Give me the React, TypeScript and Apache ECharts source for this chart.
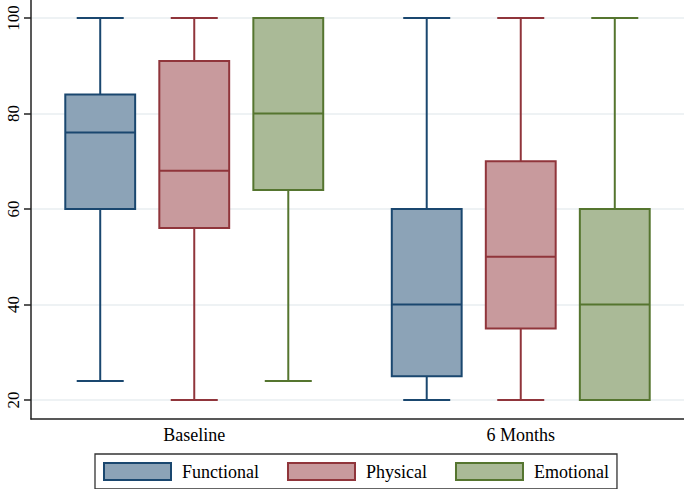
import React, { useEffect, useRef } from "react";
import * as echarts from "echarts";

const categories = ["Baseline", "6 Months"];
const seriesNames = ["Functional", "Physical", "Emotional"];
// [min, Q1, median, Q3, max] per category
const functionalStats = [
  [24, 60, 76, 84, 100],
  [20, 25, 40, 60, 100],
];
const physicalStats = [
  [20, 56, 68, 91, 100],
  [20, 35, 50, 70, 100],
];
const emotionalStats = [
  [24, 64, 80, 100, 100],
  [20, 20, 40, 60, 100],
];
const yTicks = [20, 40, 60, 80, 100];

const fills = ["#8CA3B7", "#C89A9D", "#AABA97"];
const strokes = ["#1A476F", "#90353B", "#55752F"];

export default function App() {
  const ref = useRef<HTMLDivElement>(null);
  useEffect(() => {
    if (!ref.current) return;
    const chart = echarts.init(ref.current, undefined, { renderer: "svg" });
    const allStats = [functionalStats, physicalStats, emotionalStats];
    const font = "Liberation Serif";

    const makeSeries = (idx: number) => ({
      type: "custom",
      name: seriesNames[idx],
      xAxisIndex: 1,
      yAxisIndex: 1,
      itemStyle: { color: fills[idx], borderColor: strokes[idx], borderWidth: 2 },
      data: allStats[idx].map((s, ci) => [ci, ...s]),
      renderItem: (params: any, api: any) => {
        const cat = api.value(0);
        const vMin = api.value(1), q1 = api.value(2), med = api.value(3), q3 = api.value(4), vMax = api.value(5);
        const band = api.size([1, 0])[0];
        const cx = api.coord([cat, med])[0] + (idx - 1) * band * 0.288;
        const bw = band * 0.214;
        const cw = band * 0.144;
        const y = (v: number) => api.coord([cat, v])[1];
        const lineStyle = { stroke: strokes[idx], lineWidth: 2 };
        return {
          type: "group",
          children: [
            { type: "line", shape: { x1: cx, y1: y(vMax), x2: cx, y2: y(q3) }, style: lineStyle },
            { type: "line", shape: { x1: cx, y1: y(q1), x2: cx, y2: y(vMin) }, style: lineStyle },
            { type: "line", shape: { x1: cx - cw / 2, y1: y(vMax), x2: cx + cw / 2, y2: y(vMax) }, style: lineStyle },
            { type: "line", shape: { x1: cx - cw / 2, y1: y(vMin), x2: cx + cw / 2, y2: y(vMin) }, style: lineStyle },
            {
              type: "rect",
              shape: { x: cx - bw / 2, y: y(q3), width: bw, height: y(q1) - y(q3) },
              style: { fill: fills[idx], stroke: strokes[idx], lineWidth: 2 },
            },
            { type: "line", shape: { x1: cx - bw / 2, y1: y(med), x2: cx + bw / 2, y2: y(med) }, style: lineStyle },
          ],
        };
      },
    });

    chart.setOption({
      animation: false,
      backgroundColor: "#ffffff",
      textStyle: { fontFamily: font },
      legend: {
        data: seriesNames.map((n, i) => ({
          name: n,
          itemStyle: { color: fills[i], borderColor: strokes[i], borderWidth: 2 },
        })),
        icon: "rect",
        left: 95,
        top: 454,
        itemWidth: 67,
        itemHeight: 17,
        itemGap: 28,
        padding: [8, 8, 8, 8],
        borderColor: "#333",
        borderWidth: 1.3,
        backgroundColor: "#fff",
        textStyle: { fontFamily: font, fontSize: 18, color: "#000", padding: [0, 0, 0, 6] },
      },
      grid: [
        { left: 31, right: 0, top: 0, bottom: 70 },
        { left: 31, right: 0, top: 18, bottom: 89 },
      ],
      xAxis: [
        {
          type: "category",
          gridIndex: 0,
          data: categories,
          axisLine: { show: true, lineStyle: { color: "#222", width: 1.5 } },
          axisTick: { show: false },
          axisLabel: { fontFamily: font, fontSize: 18, color: "#000", margin: 7 },
          splitLine: { show: false },
        },
        {
          type: "category",
          gridIndex: 1,
          data: categories,
          show: false,
        },
      ],
      yAxis: [
        {
          type: "value",
          gridIndex: 0,
          min: 0,
          max: 1,
          axisLine: { show: true, lineStyle: { color: "#222", width: 1.5 } },
          axisTick: { show: false },
          axisLabel: { show: false },
          splitLine: { show: false },
        },
        {
          type: "value",
          gridIndex: 1,
          min: yTicks[0],
          max: yTicks[yTicks.length - 1],
          interval: 20,
          axisLine: { show: false },
          axisTick: { show: true, length: 7, lineStyle: { color: "#222", width: 1.5 } },
          axisLabel: { fontFamily: font, fontSize: 17, color: "#000", rotate: 90, margin: 9 },
          splitLine: { show: true, lineStyle: { color: "#E8EEF1", width: 1.5 } },
        },
      ],
      series: [makeSeries(0), makeSeries(1), makeSeries(2)],
    });
    return () => chart.dispose();
  }, []);
  return (
    <div
      ref={ref}
      style={{ position: "fixed", left: 0, top: 0, width: 684, height: 489 }}
    />
  );
}
